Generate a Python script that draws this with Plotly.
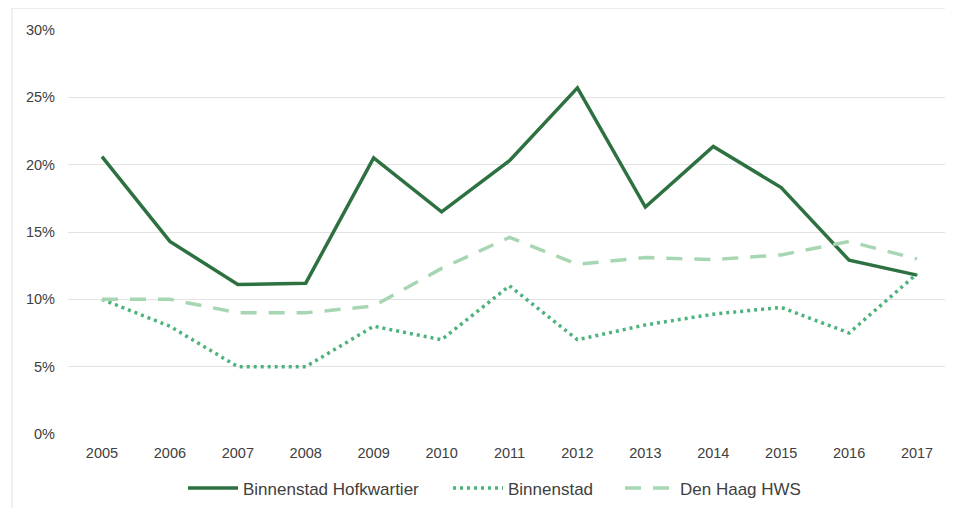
import plotly.graph_objects as go

years = ["2005", "2006", "2007", "2008", "2009", "2010", "2011", "2012", "2013", "2014", "2015", "2016", "2017"]
hofkwartier = [20.6, 14.3, 11.1, 11.2, 20.5, 16.5, 20.3, 25.7, 16.85, 21.35, 18.3, 12.9, 11.8]
binnenstad = [10.0, 8.0, 5.0, 5.0, 8.0, 7.0, 11.0, 7.0, 8.1, 8.9, 9.4, 7.5, 11.9]
den_haag = [10.0, 10.0, 9.0, 9.0, 9.5, 12.3, 14.6, 12.6, 13.1, 12.95, 13.3, 14.3, 13.0]
y_ticks = [0, 5, 10, 15, 20, 25, 30]
y_tick_labels = ["0%", "5%", "10%", "15%", "20%", "25%", "30%"]

fig = go.Figure()
fig.add_trace(go.Scatter(x=years, y=hofkwartier, mode="lines", name="Binnenstad Hofkwartier",
                         line=dict(color="#2E7140", width=3.5), legend="legend"))
fig.add_trace(go.Scatter(x=years, y=binnenstad, mode="lines", name="Binnenstad",
                         line=dict(color="#4DB27B", width=3.5, dash="3px,4px"), legend="legend2"))
fig.add_trace(go.Scatter(x=years, y=den_haag, mode="lines", name="Den Haag HWS",
                         line=dict(color="#A6D6B2", width=3.5, dash="16px,12px"), legend="legend3"))

W, H = 945, 500
L, R, T, B = 60, 2, 22, 72
pw, ph = W - L - R, H - T - B

def leg(page_x):
    return dict(orientation="h", x=(page_x - 8 - L) / pw, xanchor="left", y=-0.135, yanchor="middle",
                font=dict(size=17, color="#404040"), bgcolor="rgba(0,0,0,0)", itemwidth=50)

fig.update_layout(
    width=W, height=H,
    margin=dict(l=L, r=R, t=T, b=B),
    paper_bgcolor="white", plot_bgcolor="white",
    font=dict(family="Liberation Sans, Arial, sans-serif", size=14, color="#404040"),
    showlegend=True,
    legend=leg(183),
    legend2=leg(448),
    legend3=leg(620),
    xaxis=dict(type="category", range=[-0.5, 12.5], showgrid=False, zeroline=False, showline=False,
               ticks="", ticklabelstandoff=8, tickfont=dict(size=14.5, color="#404040")),
    yaxis=dict(range=[0, 30], tickvals=y_ticks, ticktext=y_tick_labels,
               showgrid=True, gridcolor="#E3E3E3", gridwidth=1, zeroline=False,
               showline=False, ticks="", ticklabelstandoff=12,
               tickfont=dict(size=14.5, color="#404040")),
    shapes=[dict(type="rect", xref="paper", yref="paper",
                 x0=-56 / pw, x1=1.05, y0=-0.25, y1=1 + 22 / ph,
                 line=dict(color="#E0E0E0", width=1), layer="below")],
)

fig.write_html("out.html")
